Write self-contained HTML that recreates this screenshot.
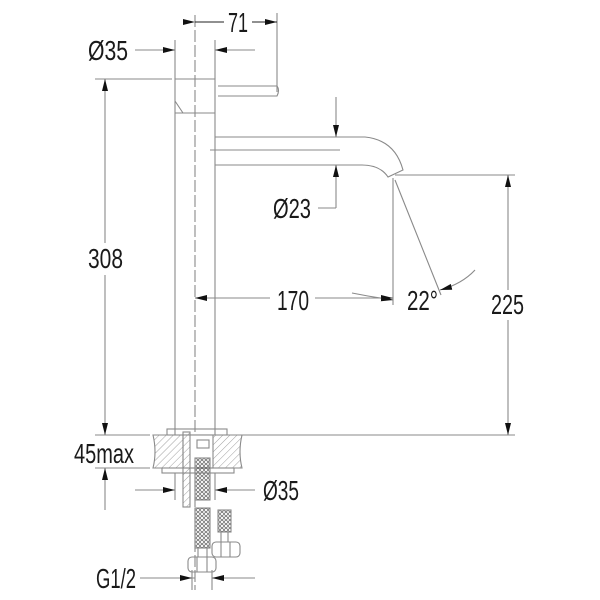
<!DOCTYPE html>
<html><head><style>body{margin:0;background:#fff}svg{display:block}text{font-family:"Liberation Sans",sans-serif;fill:#1a1a1a}</style></head>
<body>
<svg width="600" height="600" viewBox="0 0 600 600" xmlns="http://www.w3.org/2000/svg">
<defs>
<pattern id="h" width="5" height="5" patternUnits="userSpaceOnUse" patternTransform="rotate(45)"><line x1="0" y1="0" x2="0" y2="5" stroke="#888" stroke-width="0.8"/></pattern>
<pattern id="b" width="4" height="4" patternUnits="userSpaceOnUse"><circle cx="2" cy="2" r="1.5" fill="none" stroke="#666" stroke-width="0.7"/></pattern>
<marker id="a" markerWidth="12" markerHeight="6" refX="12" refY="3" orient="auto" markerUnits="userSpaceOnUse"><path d="M0,0 L12,3 L0,6z" fill="#111"/></marker>
</defs>
<g stroke="#8a8a8a" stroke-width="1.1" fill="none">
<line x1="195" y1="15" x2="195" y2="590" stroke-dasharray="12,3"/>
<line x1="277" y1="13" x2="277" y2="92"/>
<line x1="175" y1="40" x2="175" y2="79"/>
<line x1="215" y1="40" x2="215" y2="79"/>
<line x1="95" y1="79" x2="172" y2="79"/>
<line x1="395" y1="175" x2="515" y2="175"/>
<line x1="240" y1="435" x2="515" y2="435"/>
<line x1="95" y1="435" x2="150" y2="435"/>
<line x1="95" y1="468" x2="150" y2="468"/>
<line x1="393" y1="178" x2="393" y2="305"/>
<line x1="395" y1="180" x2="441" y2="295"/>
<line x1="140" y1="578" x2="195" y2="578"/>
<line x1="215" y1="578" x2="255" y2="578"/>
<line x1="192" y1="570" x2="192" y2="590"/>
<line x1="212" y1="570" x2="212" y2="590"/>
<path d="M175,79 H215 V113 H175 Z M175,101 L183,113 M175,113 V435 M215,113 V435"/>
<path d="M218,86 H277 Q280,90 277,96 H218"/>
<path d="M215,137 H365 Q395,140 403,170 L388,177 Q380,165 362,165 H215"/>
<path d="M210,150 H340"/>
<rect x="167" y="429" width="60" height="6"/>
<path d="M153,435 H242 Q238,452 242,468 H153 Q157,452 153,435Z" fill="url(#h)"/>
<rect x="183" y="435" width="30" height="33" fill="#fff"/>
<rect x="162" y="468" width="72" height="5"/>
<line x1="175" y1="473" x2="175" y2="500"/><line x1="215" y1="473" x2="215" y2="500"/>
<rect x="183" y="432" width="7" height="75" fill="url(#h)"/>
<rect x="197" y="440" width="12" height="8"/>
<rect x="195" y="458" width="15" height="42" fill="url(#b)"/>
<rect x="195" y="508" width="15" height="40" fill="url(#b)"/>
<rect x="218" y="510" width="13" height="22" fill="url(#b)"/>
<line x1="221" y1="532" x2="221" y2="542"/><line x1="228" y1="532" x2="228" y2="542"/>
<rect x="212" y="542" width="28" height="15" rx="4"/>
<line x1="221" y1="542" x2="221" y2="557"/><line x1="230" y1="542" x2="230" y2="557"/>
<line x1="198" y1="548" x2="198" y2="557"/><line x1="207" y1="548" x2="207" y2="557"/>
<rect x="188" y="557" width="28" height="15" rx="4"/>
<line x1="197" y1="557" x2="197" y2="572"/><line x1="207" y1="557" x2="207" y2="572"/>
<line x1="195" y1="22" x2="224" y2="22" marker-start="url(#a)" stroke="#222"/>
<line x1="252" y1="22" x2="277" y2="22" marker-end="url(#a)" stroke="#222"/>
<line x1="135" y1="50" x2="175" y2="50" marker-end="url(#a)"/>
<line x1="255" y1="50" x2="215" y2="50" marker-end="url(#a)"/>
<line x1="105" y1="243" x2="105" y2="79" marker-end="url(#a)"/>
<line x1="105" y1="275" x2="105" y2="435" marker-end="url(#a)"/>
<line x1="105" y1="510" x2="105" y2="468" marker-end="url(#a)"/>
<line x1="336" y1="97" x2="336" y2="137" marker-end="url(#a)"/>
<line x1="336" y1="208" x2="336" y2="165" marker-end="url(#a)"/>
<line x1="318" y1="208" x2="336" y2="208"/>
<line x1="508" y1="290" x2="508" y2="175" marker-end="url(#a)"/>
<line x1="508" y1="320" x2="508" y2="435" marker-end="url(#a)"/>
<line x1="270" y1="298" x2="195" y2="298" marker-end="url(#a)"/>
<line x1="315" y1="298" x2="393" y2="298" marker-end="url(#a)"/>
<path d="M352,293 Q372,297 393,300" marker-end="url(#a)"/>
<path d="M475,270 Q462,284 440,290" marker-end="url(#a)"/>
<line x1="135" y1="490" x2="175" y2="490" marker-end="url(#a)"/>
<line x1="255" y1="490" x2="215" y2="490" marker-end="url(#a)"/>
<line x1="165" y1="578" x2="192" y2="578" marker-end="url(#a)"/>
<line x1="240" y1="578" x2="212" y2="578" marker-end="url(#a)"/>
</g>
<g font-size="28">
<text x="228" y="32" textLength="20" lengthAdjust="spacingAndGlyphs">71</text>
<text x="88" y="60" textLength="40" lengthAdjust="spacingAndGlyphs">Ø35</text>
<text x="88" y="268" textLength="35" lengthAdjust="spacingAndGlyphs">308</text>
<text x="273" y="218" textLength="38" lengthAdjust="spacingAndGlyphs">Ø23</text>
<text x="277" y="310" textLength="32" lengthAdjust="spacingAndGlyphs">170</text>
<text x="407" y="310" textLength="31" lengthAdjust="spacingAndGlyphs">22°</text>
<text x="491" y="314" textLength="33" lengthAdjust="spacingAndGlyphs">225</text>
<text x="74" y="463" textLength="60" lengthAdjust="spacingAndGlyphs">45max</text>
<text x="263" y="500" textLength="36" lengthAdjust="spacingAndGlyphs">Ø35</text>
<text x="96" y="588" textLength="40" lengthAdjust="spacingAndGlyphs">G1/2</text>
</g>
</svg>
</body></html>
